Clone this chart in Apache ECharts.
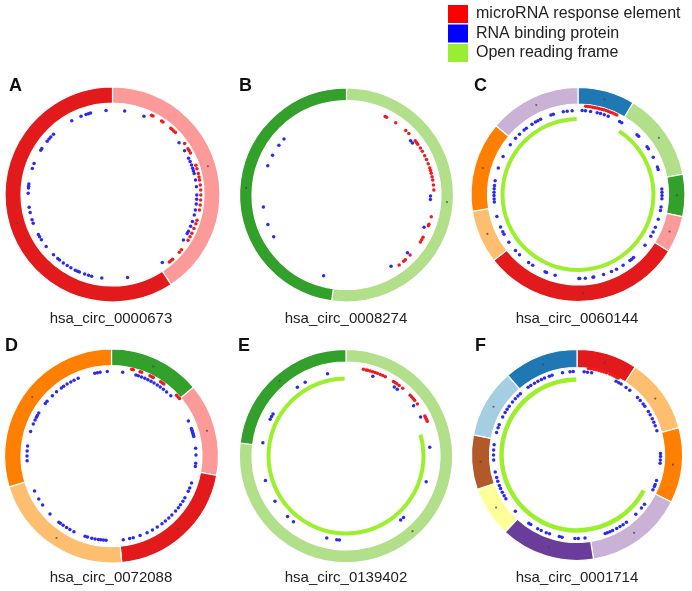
<!DOCTYPE html>
<html><head><meta charset="utf-8">
<script src="https://cdn.jsdelivr.net/npm/echarts@6/dist/echarts.min.js"></script>
<style>html,body{margin:0;padding:0;background:#fff}#c{width:692px;height:591px}</style>
</head><body><div id="c"></div>
<script>
// ---------------- DATA ----------------
const panelLetters = ['A', 'B', 'C', 'D', 'E', 'F'];
const circNames = ['hsa_circ_0000673', 'hsa_circ_0008274', 'hsa_circ_0060144',
                   'hsa_circ_0072088', 'hsa_circ_0139402', 'hsa_circ_0001714'];
const legendNames = ['microRNA response element', 'RNA binding protein', 'Open reading frame'];

// exon lengths (degrees of the circle, clockwise from top) and colours
const exonLenA = [147, 213];
const exonColA = ['#fb9a99', '#e31a1c'];
const exonLenB = [188, 172];
const exonColB = ['#b2df8a', '#33a02c'];
const exonLenC = [31, 48, 23, 20, 110, 29, 49, 50];
const exonColC = ['#1f78b4', '#b2df8a', '#33a02c', '#fb9a99', '#e31a1c', '#fdbf6f', '#ff7f00', '#cab2d6'];
const exonLenD = [50, 50.5, 74, 78.7, 106.8];
const exonColD = ['#33a02c', '#fb9a99', '#e31a1c', '#fdbf6f', '#ff7f00'];
const exonLenE = [277, 83];
const exonColE = ['#b2df8a', '#33a02c'];
const exonLenF = [33.5, 41.5, 41.5, 54.5, 52, 28, 30, 38, 41];
const exonColF = ['#e31a1c', '#fdbf6f', '#ff7f00', '#cab2d6', '#6a3d9a', '#ffff99', '#b15928', '#a6cee3', '#1f78b4'];

// microRNA response elements (angle positions)
const mreA = [26.2, 27.3, 33.7, 34.9, 41.3, 42.4, 43.9, 45.5, 54.8, 58.7, 60.1, 62, 70.7, 73, 76.3, 78.5, 80.6, 83.8, 87.1, 90.3, 93.6, 96.8, 100.1, 106.9, 109.3, 112.7, 116, 118.6, 121.2, 128.7, 130.8, 137.1, 138.6, 139.9];
const mreB = [26.2, 27.3, 34.2, 42.6, 45.4, 51.7, 53.1, 54.5, 57.6, 60, 63.3, 66.1, 69, 72.1, 73.8, 75.6, 77.9, 80.1, 83.4, 86.7, 104.4, 109.6, 110.6, 118.9, 120.7, 122.4, 133.4, 137.7, 139.2, 143];
const mreC = [5, 6.5, 8, 9.5, 11, 12.5, 14, 15.5, 17, 18.5, 20, 21.5, 23, 24.5, 26];
const mreD = [13.1, 14.2, 18.7, 19.8, 25.6, 26.9, 28, 33.5, 34.9, 36, 46.9, 48.4, 49.8];
const mreE = [11.3, 13.1, 14.2, 15.8, 17.5, 19.2, 20.8, 22.8, 24.6, 26.4, 32.5, 33.7, 35.1, 37, 39.9, 46.5, 47.9, 49.4, 50.9, 53.9, 63.1, 64.2, 65.5, 66.8];
const mreF = [7.6, 9.2, 11, 12.7, 14.5, 16.3, 18.1, 19.8, 22, 23.8, 25.3, 26.9, 28.2];

// RNA binding protein sites (angle positions)
const rbpA = [355.6, 8.3, 21.9, 341.7, 343.4, 344.9, 338.1, 331.1, 315.6, 312.9, 311.1, 309.2, 303, 301.7, 291.5, 288, 277.1, 275.7, 274.4, 270.8, 261.3, 257.6, 252.6, 250.1, 241.6, 239.9, 237.5, 231.9, 224.4, 220.5, 218.9, 215.7, 212.5, 209.6, 206.2, 204.5, 203.1, 199.3, 196.5, 194.3, 187.3, 169.7, 143.8, 52.1, 58.8, 64.5, 67, 69.6, 71.9, 73.7, 75.6, 80.1, 84.7, 90.3, 93.3, 96.5, 100.6, 104, 108.6, 112.1, 115.8, 117.6, 122.7];
const rbpB = [311.9, 306.4, 298.3, 290.4, 261.8, 249.4, 240.1, 195.8, 148, 133.5, 112.6, 90.7, 93, 49.7, 51.7];
const rbpC = [349.9, 352.6, 356, 341.2, 342.9, 2.8, 5.1, 8.6, 13.2, 15.5, 18.2, 21.1, 29.7, 31.4, 44.6, 46.2, 55.3, 56.9, 63.6, 70.9, 72.6, 86.2, 88.4, 90.7, 92.9, 98.6, 101, 107.1, 112.9, 116.6, 119.9, 127.1, 138.6, 140.3, 141.8, 147.5, 152.7, 156.5, 162.3, 169.2, 169.7, 175, 178.8, 179.4, 195.8, 203.1, 202, 212.6, 216, 224.1, 228.1, 235.4, 241.7, 243.6, 247.3, 254.9, 264.8, 267, 269.3, 271.6, 273.9, 276.1, 279.5, 288.4, 296.9, 306.3, 312, 315.9, 320.1, 322.1, 326.8, 329.6, 331.5, 333.6];
const rbpD = [7.6, 16.8, 18.5, 20.8, 23.2, 25.5, 27.9, 30.2, 32.8, 35.2, 37.9, 40.7, 44.6, 65.5, 71, 72.2, 73.3, 74.4, 75.6, 76.7, 84.8, 89.3, 94.9, 97.2, 108.6, 112.2, 114.7, 119.7, 122.4, 125.3, 127.7, 130.7, 134.4, 137.3, 140.4, 143.3, 147.2, 151, 155.1, 160.2, 165.1, 167.6, 172, 183.7, 185.5, 187.3, 188.9, 191.2, 193.5, 196.5, 198.2, 206.4, 209.5, 212.1, 214.9, 217.3, 218.5, 226.7, 234.6, 239.4, 245.6, 266.8, 270, 273.4, 276.8, 286.8, 292.3, 295.2, 297.3, 298.6, 300.6, 308.4, 310.3, 315.6, 319.4, 323.6, 325.5, 328.3, 331.2, 333.7, 336.8, 348.6, 350.4, 352.2, 357.1];
const rbpE = [347.3, 331, 324.7, 300, 297.9, 295.8, 279.1, 253.1, 237.5, 224, 218.6, 193.2, 186.3, 184.5, 139.5, 136.9, 107.8, 84.1, 62.4, 53.4, 35, 37.5, 18.6];
const rbpF = [4.9, 7.2, 10.1, 355.2, 357.4, 350, 342.6, 340.6, 337.1, 334.8, 332.1, 329.4, 326.4, 324.1, 317.3, 315, 312.4, 309.4, 305.7, 303.2, 300.6, 297.1, 291.3, 289, 285.6, 277, 273.5, 270, 266.5, 258.3, 254.3, 251.6, 248.5, 246.3, 243.5, 240.8, 238.4, 227.6, 215.2, 213.6, 208.1, 205.4, 201.6, 199.2, 192.2, 190.3, 181.4, 179.1, 174.5, 160.3, 158.7, 156.7, 154.8, 151.6, 149, 146.5, 143.7, 135.2, 129.5, 126.1, 114.6, 112.1, 110.6, 107.8, 88.9, 91.1, 93.4, 95.6, 73.1, 69.5, 66.9, 64.3, 61.2, 58.7, 54.3, 52.4, 49.2, 46.4, 39.2, 36, 31.9, 30, 27.9];

// open reading frames [start, end] (null = none)
const orfA = null, orfB = null;
const orfC = [33, 359];
const orfD = null;
const orfE = [74, 359];
const orfF = [118, 359.5];

// ---------------- LAYOUT / STYLE ----------------
const layout = [
  {cx: 112.5, cy: 194.5, outer: 107.5, inner: 91.5, mreR: 88.3, rbpR: 84.3, orfR: 0,    orfW: 0,   lx: 111, ly: 319, tx: 9,   ty: 87},
  {cx: 346.5, cy: 195,   outer: 107,   inner: 94.5, mreR: 87.5, rbpR: 84,   orfR: 0,    orfW: 0,   lx: 346, ly: 319, tx: 239, ty: 87},
  {cx: 578,   cy: 194.5, outer: 107,   inner: 90.5, mreR: 88.5, rbpR: 84,   orfR: 75.5, orfW: 4,   lx: 577, ly: 319, tx: 474, ty: 87},
  {cx: 111.5, cy: 456,   outer: 107,   inner: 90.5, mreR: 89,   rbpR: 84.5, orfR: 0,    orfW: 0,   lx: 111, ly: 578, tx: 5,   ty: 347},
  {cx: 346,   cy: 456,   outer: 106.7, inner: 94,   mreR: 88.4, rbpR: 84.2, orfR: 77.5, orfW: 4,   lx: 346, ly: 578, tx: 238, ty: 347},
  {cx: 577,   cy: 455,   outer: 105.5, inner: 87.5, mreR: 87.3, rbpR: 83.5, orfR: 75.5, orfW: 4.5, lx: 577, ly: 578, tx: 475, ty: 347}
];
const MRE_COLOR = '#ee1c1c';
const RBP_COLOR = '#2a2af0';
const ORF_COLOR = '#9cef2c';
const LEG_RED = '#ff0000', LEG_BLUE = '#0000ff', LEG_GREEN = '#99ee33';

const exonLens = [exonLenA, exonLenB, exonLenC, exonLenD, exonLenE, exonLenF];
const exonCols = [exonColA, exonColB, exonColC, exonColD, exonColE, exonColF];
const mres = [mreA, mreB, mreC, mreD, mreE, mreF];
const rbps = [rbpA, rbpB, rbpC, rbpD, rbpE, rbpF];
const orfs = [orfA, orfB, orfC, orfD, orfE, orfF];

function sectorRender(rIn, rOut, colorFn) {
  return function (params, api) {
    const cs = params.coordSys;
    const cx = cs.cx, cy = cs.cy;
    const a0 = api.value(0), a1 = api.value(1);
    const p0 = api.coord([rOut, a0]);
    const p1 = api.coord([rOut, a1]);
    const q0 = api.coord([rIn, a0]);
    const ang = p => Math.atan2(p[1] - cy, p[0] - cx);
    const rad = p => Math.hypot(p[0] - cx, p[1] - cy);
    let s = ang(p0), e = ang(p1);
    while (e <= s + 1e-9) e += 2 * Math.PI;
    return {
      type: 'sector',
      shape: {cx: cx, cy: cy, r0: rad(q0), r: rad(p0), startAngle: s, endAngle: e, clockwise: true},
      style: colorFn(params.dataIndex)
    };
  };
}

const polar = [], angleAxis = [], radiusAxis = [], series = [], graphic = [];
layout.forEach((L, i) => {
  polar.push({center: [L.cx, L.cy], radius: L.outer});
  angleAxis.push({polarIndex: i, type: 'value', min: 0, max: 360, startAngle: 90, clockwise: true, show: false});
  radiusAxis.push({polarIndex: i, type: 'value', min: 0, max: L.outer, show: false});

  // exon ring
  let acc = 0;
  const exRows = exonLens[i].map((len, k) => { const r = [acc, acc + len, k]; acc += len; return r; });
  const cols = exonCols[i];
  series.push({
    type: 'custom', name: 'exons' + panelLetters[i], coordinateSystem: 'polar', polarIndex: i,
    silent: true, data: exRows,
    renderItem: sectorRender(L.inner, L.outer, k => ({fill: cols[k], stroke: '#ffffff', lineWidth: 1.2}))
  });
  // small exon label marks
  series.push({
    type: 'scatter', name: 'exonMark' + panelLetters[i], coordinateSystem: 'polar', polarIndex: i,
    silent: true, symbolSize: 2.2, itemStyle: {color: 'rgba(70,70,70,0.75)', opacity: 1},
    data: exRows.map(r => [(L.inner + L.outer) / 2, (r[0] + r[1]) / 2])
  });
  // ORF arc
  if (orfs[i]) {
    series.push({
      type: 'custom', name: legendNames[2], coordinateSystem: 'polar', polarIndex: i,
      silent: true, itemStyle: {color: ORF_COLOR}, data: [orfs[i]],
      renderItem: sectorRender(L.orfR - L.orfW / 2, L.orfR + L.orfW / 2, () => ({fill: ORF_COLOR}))
    });
  }
  // RBP points
  series.push({
    type: 'scatter', name: legendNames[1], coordinateSystem: 'polar', polarIndex: i,
    symbolSize: 3.5, itemStyle: {color: RBP_COLOR, opacity: 1},
    data: rbps[i].map(a => [L.rbpR, a])
  });
  // MRE points
  series.push({
    type: 'scatter', name: legendNames[0], coordinateSystem: 'polar', polarIndex: i,
    symbolSize: 3.5, itemStyle: {color: MRE_COLOR, opacity: 1},
    data: mres[i].map(a => [L.mreR, a])
  });

  graphic.push({
    type: 'text', left: L.tx, top: L.ty - 10,
    style: {text: panelLetters[i], font: 'bold 18px "Liberation Sans", Arial, sans-serif', fill: '#111'}
  });
  graphic.push({
    type: 'text', x: L.lx, y: L.ly,
    style: {text: circNames[i], font: '15px "Liberation Sans", Arial, sans-serif', fill: '#222',
            textAlign: 'center', textVerticalAlign: 'middle'}
  });
});

const chart = echarts.init(document.getElementById('c'), null, {renderer: 'canvas'});
chart.setOption({
  animation: false,
  backgroundColor: '#ffffff',
  color: [LEG_RED, LEG_BLUE, LEG_GREEN],
  legend: {
    orient: 'vertical', left: 448, top: 5, padding: 0,
    itemWidth: 20, itemHeight: 18, itemGap: 1.5, icon: 'rect',
    selectedMode: false,
    textStyle: {fontSize: 16, color: '#222', fontFamily: '"Liberation Sans", Arial, sans-serif', padding: [0, 0, 0, 3]},
    data: [
      {name: legendNames[0], itemStyle: {color: LEG_RED, opacity: 1}},
      {name: legendNames[1], itemStyle: {color: LEG_BLUE, opacity: 1}},
      {name: legendNames[2], itemStyle: {color: LEG_GREEN, opacity: 1}}
    ]
  },
  polar: polar,
  angleAxis: angleAxis,
  radiusAxis: radiusAxis,
  series: series,
  graphic: graphic
});
</script></body></html>
